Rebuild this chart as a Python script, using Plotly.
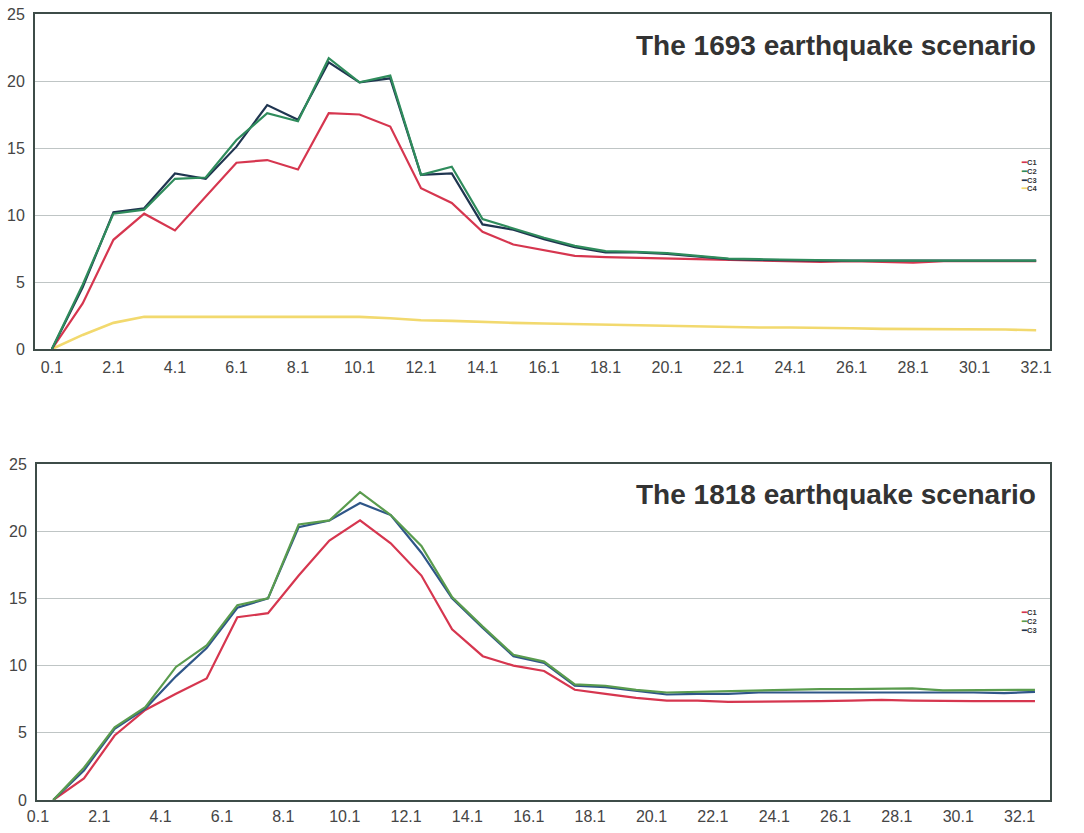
import plotly.graph_objects as go

# ---------------- data ----------------
dist_1693 = [0.1, 1.1, 2.1, 3.1, 4.1, 5.1, 6.1, 7.1, 8.1, 9.1, 10.1, 11.1, 12.1, 13.1, 14.1, 15.1,
             16.1, 17.1, 18.1, 19.1, 20.1, 21.1, 22.1, 23.1, 24.1, 25.1, 26.1, 27.1, 28.1, 29.1,
             30.1, 31.1, 32.1]
dist_1818 = [0.6, 1.6, 2.6, 3.6, 4.6, 5.6, 6.6, 7.6, 8.6, 9.6, 10.6, 11.6, 12.6, 13.6, 14.6, 15.6,
             16.6, 17.6, 18.6, 19.6, 20.6, 21.6, 22.6, 23.6, 24.6, 25.6, 26.6, 27.6, 28.6, 29.6,
             30.6, 31.6, 32.6]

c1_1693 = [0, 3.4, 8.15, 10.1, 8.85, 11.4, 13.9, 14.1, 13.4, 17.6, 17.5, 16.6, 12.0, 10.9, 8.75,
           7.8, 7.4, 6.95, 6.85, 6.8, 6.75, 6.7, 6.65, 6.6, 6.5, 6.5, 6.55, 6.5, 6.45, 6.55,
           6.55, 6.55, 6.55]
c2_1693 = [0, 4.8, 10.1, 10.4, 12.7, 12.8, 15.6, 17.6, 17.0, 21.7, 19.9, 20.4, 13.0, 13.6, 9.7,
           9.0, 8.3, 7.7, 7.3, 7.25, 7.15, 6.95, 6.75, 6.7, 6.65, 6.6, 6.6, 6.6, 6.6, 6.6,
           6.6, 6.6, 6.6]
c3_1693 = [0, 4.6, 10.2, 10.5, 13.1, 12.7, 15.1, 18.2, 17.1, 21.4, 19.9, 20.2, 13.0, 13.1, 9.3,
           8.9, 8.2, 7.6, 7.2, 7.2, 7.1, 6.9, 6.7, 6.65, 6.6, 6.6, 6.6, 6.6, 6.6, 6.65,
           6.65, 6.6, 6.6]
c4_1693 = [0, 1.05, 1.95, 2.4, 2.4, 2.4, 2.45, 2.45, 2.45, 2.45, 2.4, 2.3, 2.15, 2.1, 2.0,
           1.95, 1.9, 1.85, 1.8, 1.8, 1.75, 1.7, 1.65, 1.6, 1.6, 1.6, 1.55, 1.5, 1.5, 1.5,
           1.45, 1.45, 1.4]

c1_1818 = [0, 1.6, 4.8, 6.7, 7.9, 9.05, 13.6, 13.9, 16.7, 19.3, 20.8, 19.1, 16.7, 12.7, 10.7,
           10.0, 9.6, 8.2, 7.9, 7.6, 7.4, 7.4, 7.3, 7.3, 7.35, 7.35, 7.4, 7.45, 7.4, 7.35,
           7.35, 7.35, 7.35]
c2_1818 = [0, 2.4, 5.4, 6.9, 9.9, 11.5, 14.5, 15.0, 20.5, 20.8, 22.9, 21.2, 18.9, 15.1, 12.9,
           10.8, 10.3, 8.6, 8.5, 8.2, 8.0, 8.05, 8.1, 8.2, 8.25, 8.25, 8.25, 8.3, 8.3, 8.15,
           8.15, 8.15, 8.2]
c3_1818 = [0, 2.2, 5.3, 6.8, 9.2, 11.3, 14.3, 15.0, 20.3, 20.8, 22.1, 21.2, 18.4, 15.0, 12.8,
           10.7, 10.2, 8.5, 8.4, 8.1, 7.85, 7.9, 7.9, 8.0, 8.0, 8.05, 8.05, 8.05, 8.05, 8.0,
           8.0, 7.95, 8.05]

tick_vals = [0.1, 2.1, 4.1, 6.1, 8.1, 10.1, 12.1, 14.1, 16.1, 18.1, 20.1, 22.1, 24.1, 26.1,
             28.1, 30.1, 32.1]
tick_text = ["0.1", "2.1", "4.1", "6.1", "8.1", "10.1", "12.1", "14.1", "16.1", "18.1", "20.1",
             "22.1", "24.1", "26.1", "28.1", "30.1", "32.1"]
y_ticks = [0, 5, 10, 15, 20, 25]

title_1693 = "The 1693 earthquake scenario"
title_1818 = "The 1818 earthquake scenario"
legend_1693 = ["C1", "C2", "C3", "C4"]
legend_1818 = ["C1", "C2", "C3"]

# ---------------- style ----------------
RED = "#d6364f"
GREEN_T = "#2f8c5c"
NAVY_T = "#1f3550"
YELLOW = "#f2d96e"
GREEN_B = "#5a9c4e"
BLUE_B = "#2f5688"
FONT = "Liberation Sans, Arial, sans-serif"
AXC = "#3e4c48"

fig = go.Figure()

def add(x, y, color, xa, ya, name, w=2.2):
    fig.add_trace(go.Scatter(x=x, y=y, mode="lines", name=name,
                             line=dict(color=color, width=w),
                             xaxis=xa, yaxis=ya, showlegend=False))

# top chart (1693)
add(dist_1693, c4_1693, YELLOW, "x", "y", "C4", 2.6)
add(dist_1693, c1_1693, RED, "x", "y", "C1")
add(dist_1693, c3_1693, NAVY_T, "x", "y", "C3")
add(dist_1693, c2_1693, GREEN_T, "x", "y", "C2")

# bottom chart (1818)
add(dist_1818, c1_1818, RED, "x2", "y2", "C1")
add(dist_1818, c3_1818, BLUE_B, "x2", "y2", "C3")
add(dist_1818, c2_1818, GREEN_B, "x2", "y2", "C2")

W, H = 1084, 833

def px_x(p):
    return p / W

def px_y(p):
    return 1 - p / H

xdom_top = [px_x(35), px_x(1050)]
xdom_bot = [px_x(37), px_x(1050)]
ydom_top = [px_y(349), px_y(14)]
ydom_bot = [px_y(800), px_y(464)]

axis_common = dict(showline=True, mirror=True, linecolor=AXC, linewidth=2,
                   ticks="", zeroline=False, automargin=False,
                   tickfont=dict(family=FONT, size=16, color="#454545"))

fig.update_layout(
    width=W, height=H,
    margin=dict(l=0, r=0, t=0, b=0, autoexpand=False),
    paper_bgcolor="white", plot_bgcolor="white",
    xaxis=dict(domain=xdom_top, anchor="y", range=[-0.45, 32.55], ticklabelstandoff=3,
               tickvals=tick_vals, ticktext=tick_text, showgrid=False, **axis_common),
    yaxis=dict(domain=ydom_top, anchor="x", range=[0, 25], tickvals=y_ticks, ticklabelstandoff=5,
               showgrid=True, gridcolor="#bfc5c5", gridwidth=1, **axis_common),
    xaxis2=dict(domain=xdom_bot, anchor="y2", range=[0.07, 33.09], ticklabelstandoff=1,
                tickvals=tick_vals, ticktext=tick_text, showgrid=False, **axis_common),
    yaxis2=dict(domain=ydom_bot, anchor="x2", range=[0, 25], tickvals=y_ticks, ticklabelstandoff=5,
                showgrid=True, gridcolor="#bfc5c5", gridwidth=1, **axis_common),
)

# titles
for txt, yc in [(title_1693, 45), (title_1818, 494)]:
    fig.add_annotation(text=f"<b>{txt}</b>", xref="paper", yref="paper",
                       x=px_x(1038), y=px_y(yc), xanchor="right", yanchor="middle",
                       showarrow=False, font=dict(family=FONT, size=28, color="#333333"))

# legends (small, stacked)
def add_legend(names, colors, y0, step):
    for k, (n, c) in enumerate(zip(names, colors)):
        fig.add_annotation(text=f"<b><span style='color:{c}'>━</span>{n}</b>",
                           xref="paper", yref="paper", x=px_x(1020), y=px_y(y0 + k * step),
                           xanchor="left", yanchor="middle", align="left", showarrow=False,
                           borderpad=0,
                           font=dict(family=FONT, size=7.5, color="#333333"))

add_legend(legend_1693, [RED, GREEN_T, NAVY_T, YELLOW], 162, 9)
add_legend(legend_1818, [RED, GREEN_B, NAVY_T], 612, 9)

# remove the default 8px page margin so the figure sits at the window origin
fig.write_html("out.html", config={"displayModeBar": False},
               post_script="document.body.style.margin='0px';")
